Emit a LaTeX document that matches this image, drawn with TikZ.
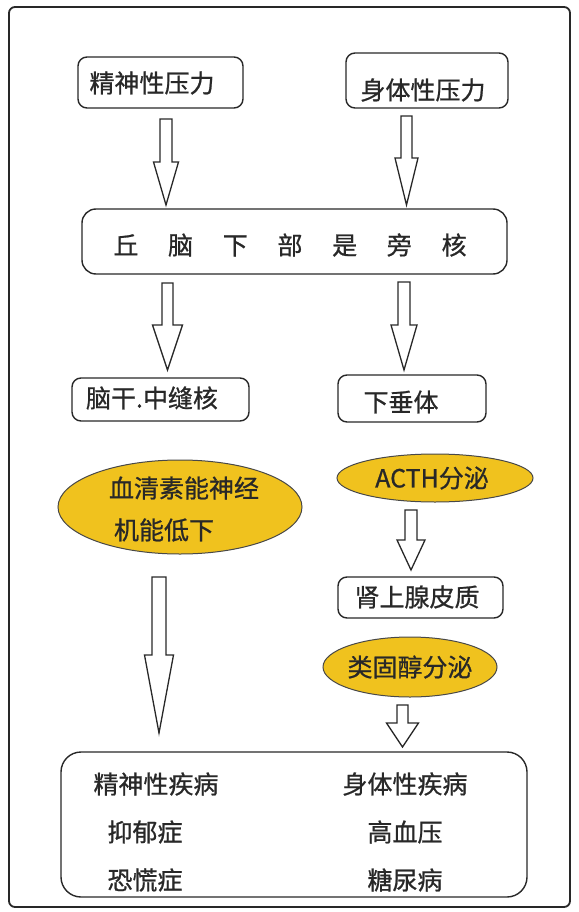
\documentclass[tikz,border=0pt]{standalone}
\usepackage{fontspec}
\newfontfamily\cjk[FakeBold=0.8]{Noto Sans CJK SC}
\usetikzlibrary{shapes.geometric}
\definecolor{gold}{RGB}{240,194,30}
\definecolor{ink}{RGB}{40,40,40}
\newcommand{\blockarrow}[6]{%
  \draw[barrow] ({#1-#5},#2) -- ({#1+#5},#2) -- ({#1+#5},#3) -- ({#1+#6},#3) -- (#1,#4) -- ({#1-#6},#3) -- ({#1-#5},#3) -- cycle;}
\begin{document}
\begin{tikzpicture}[x=1pt,y=-1pt,
  box/.style={draw=ink, line width=1.4pt, rounded corners=9pt, fill=white, inner sep=0pt},
  oval/.style={ellipse, draw=ink!85, line width=1pt, fill=gold, inner sep=0pt},
  txt/.style={font=\cjk\fontsize{25}{30}\selectfont, text=ink, inner sep=0pt},
  barrow/.style={draw=ink, line width=1.3pt, fill=white, line join=miter}]
\useasboundingbox[fill=white] (0,0) rectangle (578,912);
% outer frame
\draw[draw=ink, line width=1.8pt, rounded corners=6pt] (9,7) rectangle (570,907);

% top boxes
\node[box, minimum width=165pt, minimum height=51pt] (b1) at (160.5,82.5) {};
\node[txt] (t1) at (152,83) {精神性压力};
\node[box, minimum width=162pt, minimum height=55pt] (b2) at (427,80.5) {};
\node[txt] (t2) at (423,90) {身体性压力};

% hypothalamus box
\node[box, minimum width=425pt, minimum height=65pt, rounded corners=14pt] (b3) at (294.5,241.5) {};
\node[txt] (t3) at (290,245) {丘\hspace{29.7pt}脑\hspace{29.7pt}下\hspace{29.7pt}部\hspace{29.7pt}是\hspace{29.7pt}旁\hspace{29.7pt}核};

% second level boxes
\node[box, minimum width=177pt, minimum height=43pt] (b4) at (160.5,399.5) {};
\node[txt] (t4) at (152,398) {脑干.中缝核};
\node[box, minimum width=148pt, minimum height=47pt] (b5) at (412,398.5) {};
\node[txt] (t5) at (401,402) {下垂体};

% ellipses
\node[oval, minimum width=244pt, minimum height=94pt] (e1) at (180,507) {};
\node[txt] (t6) at (184,488) {血清素能神经};
\node[txt] (t7) at (164,530) {机能低下};
\node[oval, minimum width=196pt, minimum height=48pt] (e2) at (435,478) {};
\node[txt] (t8) at (432,478) {ACTH分泌};

\node[box, minimum width=165pt, minimum height=41pt] (b6) at (420.5,597.5) {};
\node[txt] (t9) at (417,597) {肾上腺皮质};

\node[oval, minimum width=174pt, minimum height=60pt] (e3) at (410,667) {};
\node[txt] (t10) at (410,667) {类固醇分泌};

% bottom box
\node[box, minimum width=466pt, minimum height=145pt, rounded corners=20pt] (b7) at (294,824.5) {};
\node[txt] (t11) at (156,784) {精神性疾病};
\node[txt] (t12) at (145,832) {抑郁症};
\node[txt] (t13) at (145,880) {恐慌症};
\node[txt] (t14) at (405,784) {身体性疾病};
\node[txt] (t15) at (405,832) {高血压};
\node[txt] (t16) at (405,880) {糖尿病};

% block arrows: cx, ytop, yshaftend, ytip, shaft half width, head half width
\blockarrow{166}{119}{162}{205}{6}{12.5}
\blockarrow{406.5}{116}{158}{205}{5.5}{11.5}
\blockarrow{167.5}{283}{325}{370}{5.5}{15}
\blockarrow{404}{282}{325}{370}{6}{13}
\blockarrow{411}{510}{540}{570}{6}{14}
\blockarrow{402.5}{705}{723}{747}{5.5}{16}
\blockarrow{159}{577}{655}{733}{7}{14.5}
\end{tikzpicture}
\end{document}
